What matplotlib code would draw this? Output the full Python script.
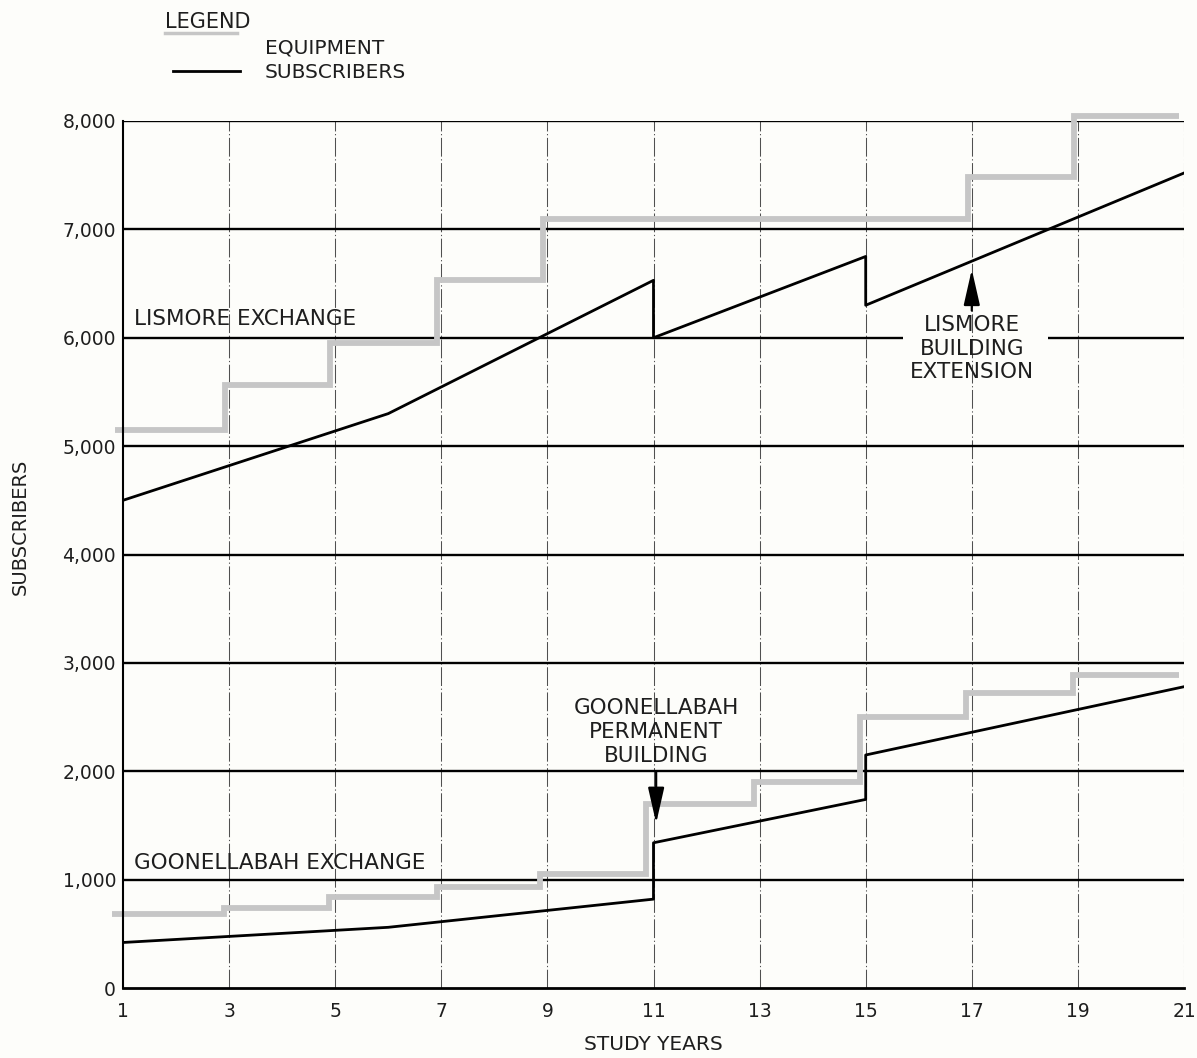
import matplotlib
matplotlib.use("Agg")
import matplotlib.pyplot as plt
import numpy as np

# ---------------- data ----------------
years_ticks = [1, 3, 5, 7, 9, 11, 13, 15, 17, 19, 21]
y_ticks = [0, 1000, 2000, 3000, 4000, 5000, 6000, 7000, 8000]
y_tick_labels = ["0", "1,000", "2,000", "3,000", "4,000", "5,000", "6,000", "7,000", "8,000"]

# Lismore exchange
lis_equip_edges = [0.85, 2.93, 4.9, 6.92, 8.92, 16.92, 18.92, 20.9]
lis_equip_levels = [5150, 5560, 5950, 6530, 7100, 7480, 8050]
lis_sub_years = [1, 6, 11, 11, 15, 15, 21]
lis_sub_values = [4500, 5300, 6530, 6000, 6750, 6300, 7520]

# Goonellabah exchange
goo_equip_edges = [0.8, 2.9, 4.88, 6.92, 8.86, 10.86, 12.9, 14.9, 16.9, 18.9, 20.9]
goo_equip_levels = [680, 740, 840, 930, 1050, 1700, 1900, 2500, 2720, 2890]
goo_sub_years = [1, 6, 11, 11, 15, 15, 21]
goo_sub_values = [420, 560, 820, 1340, 1740, 2150, 2780]

EQUIP_COLOR = "#c6c6c6"
BG = "#fdfdfa"
TXT = "#1e1e1e"

W, H = 1197, 1058
fig = plt.figure(figsize=(W / 100, H / 100), dpi=100, facecolor=BG)
ax = fig.add_axes([123 / W, 1 - 988 / H, (1184 - 123) / W, (988 - 121) / H])
ax.set_facecolor(BG)
ax.set_xlim(1, 21)
ax.set_ylim(0, 8000)

# vertical grid (odd years)
for xv in years_ticks[1:]:
    ax.axvline(xv, color="#505050", lw=0.75, ls=(0, (18, 2.5, 1.2, 2.5)), zorder=1)

# horizontal grid
for yv in y_ticks[1:]:
    if yv == 6000:
        ax.plot([1, 15.7], [yv, yv], color="black", lw=1.7, zorder=1, solid_capstyle="butt")
        ax.plot([18.44, 21], [yv, yv], color="black", lw=1.7, zorder=1, solid_capstyle="butt")
    else:
        ax.axhline(yv, color="black", lw=1.7, zorder=1)

# equipment
for edges, levels in [(lis_equip_edges, lis_equip_levels), (goo_equip_edges, goo_equip_levels)]:
    ax.stairs(levels, edges, baseline=None, fill=False, color=EQUIP_COLOR, lw=4.2,
              clip_on=False, zorder=2, joinstyle="miter")

# subscribers
ax.plot(lis_sub_years, lis_sub_values, color="black", lw=2, zorder=3)
ax.plot(goo_sub_years, goo_sub_values, color="black", lw=2, zorder=3)

# spines
for s in ["top", "right"]:
    ax.spines[s].set_visible(False)
ax.spines["left"].set_linewidth(1.5)
ax.spines["bottom"].set_linewidth(2)

ax.set_xticks(years_ticks)
ax.set_xticklabels([str(v) for v in years_ticks])
ax.set_yticks(y_ticks)
ax.set_yticklabels(y_tick_labels)
ax.tick_params(axis="both", length=0, labelsize=13.5, colors=TXT)
ax.tick_params(axis="y", pad=5)
ax.tick_params(axis="x", pad=10)

# annotations
txt_kw = dict(fontsize=15.5, color=TXT)
ax.text(1.2, 6170, "LISMORE EXCHANGE", ha="left", va="center", **txt_kw)
ax.text(1.2, 1153, "GOONELLABAH EXCHANGE", ha="left", va="center", **txt_kw)
ax.text(17, 5900, "LISMORE\nBUILDING\nEXTENSION", ha="center", va="center",
        linespacing=1.22, **txt_kw)
ax.text(11.05, 2362, "GOONELLABAH\nPERMANENT\nBUILDING", ha="center", va="center",
        linespacing=1.22, **txt_kw)

arrow_kw = dict(arrowstyle="-|>,head_length=1.1,head_width=0.25", color="black", lw=1.6,
                mutation_scale=20, shrinkA=0, shrinkB=0)
ax.annotate("", xy=(17, 6630), xytext=(17, 6250), arrowprops=arrow_kw, zorder=4)
ax.annotate("", xy=(11.05, 1520), xytext=(11.05, 2000), arrowprops=arrow_kw, zorder=4)

# axis labels
fig.text(20 / W, 1 - 527 / H, "SUBSCRIBERS", rotation=90, ha="center", va="center",
         fontsize=14, color=TXT)
fig.text(653 / W, 1 - 1045 / H, "STUDY YEARS", ha="center", va="center",
         fontsize=14.5, color=TXT)

# legend
fig.text(165 / W, 1 - 22 / H, "LEGEND", ha="left", va="center", fontsize=15, color=TXT)
fig.lines.append(matplotlib.lines.Line2D([165 / W, 237 / W], [1 - 33 / H, 1 - 33 / H],
                                         transform=fig.transFigure, color=EQUIP_COLOR, lw=2.5))
fig.text(265 / W, 1 - 48 / H, "EQUIPMENT", ha="left", va="center", fontsize=14.5, color=TXT)
fig.lines.append(matplotlib.lines.Line2D([173 / W, 240 / W], [1 - 71 / H, 1 - 71 / H],
                                         transform=fig.transFigure, color="black", lw=2))
fig.text(265 / W, 1 - 72 / H, "SUBSCRIBERS", ha="left", va="center", fontsize=14.5, color=TXT)

fig.savefig("out.png", dpi=100, facecolor=BG)
